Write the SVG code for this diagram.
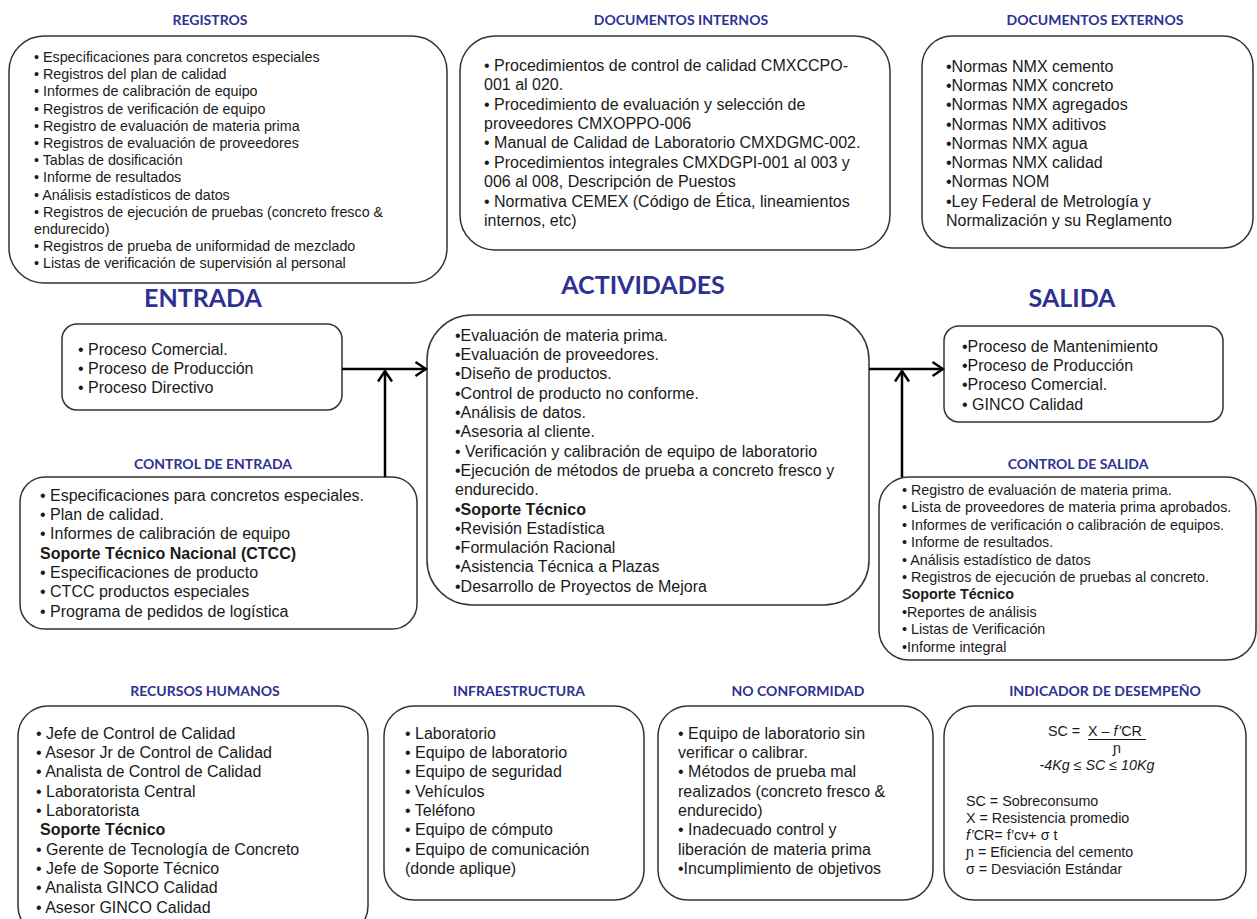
<svg xmlns="http://www.w3.org/2000/svg" width="1257" height="919" viewBox="0 0 1257 919">
  <defs>
    <style>
      .box { fill: #ffffff; stroke: #333333; stroke-width: 1.5; }
      .hd { font-family: Lato, "Open Sans", sans-serif; font-weight: 700; fill: #2e3192; text-anchor: middle; }
      .hs { font-size: 14px; }
      .hl { font-size: 25px; }
      .t { font-family: "Liberation Sans", Arial, sans-serif; fill: #1a1a1a; }
      .t15 { font-size: 16px; }
      .t13 { font-size: 14.3px; }
      .b { font-weight: 700; }
      .i { font-style: italic; }
      .conn { stroke: #000000; stroke-width: 2.5; fill: none; }
    </style>
    <marker id="arrow" viewBox="0 0 14 18" markerWidth="14" markerHeight="18" refX="12.5" refY="9" orient="auto" markerUnits="userSpaceOnUse">
      <path d="M2,2 L12.5,9 L2,16" fill="none" stroke="#000000" stroke-width="2.4"/>
    </marker>
  </defs>

  <rect width="1257" height="919" fill="#ffffff"/>

  <!-- Section headings -->
  <g id="headings">
    <text class="hd hl" x="203" y="307">ENTRADA</text>
    <text class="hd hl" x="643" y="294">ACTIVIDADES</text>
    <text class="hd hl" x="1072" y="307">SALIDA</text>
  </g>

  <!-- Records -->
  <g id="registros">
    <text class="hd hs" x="210" y="25">REGISTROS</text>
    <rect class="box" x="9" y="36" width="438" height="247" rx="35"/>
    <text class="t t13" x="34" y="62">
      <tspan x="34" dy="0">• Especificaciones para concretos especiales</tspan>
      <tspan x="34" dy="17.2">• Registros del plan de calidad</tspan>
      <tspan x="34" dy="17.2">• Informes de calibración de equipo</tspan>
      <tspan x="34" dy="17.2">• Registros de verificación de equipo</tspan>
      <tspan x="34" dy="17.2">• Registro de evaluación de materia prima</tspan>
      <tspan x="34" dy="17.2">• Registros de evaluación de proveedores</tspan>
      <tspan x="34" dy="17.2">• Tablas de dosificación</tspan>
      <tspan x="34" dy="17.2">• Informe de resultados</tspan>
      <tspan x="34" dy="17.2">• Análisis estadísticos de datos</tspan>
      <tspan x="34" dy="17.2">• Registros de ejecución de pruebas (concreto fresco &amp;</tspan>
      <tspan x="34" dy="17.2">endurecido)</tspan>
      <tspan x="34" dy="17.2">• Registros de prueba de uniformidad de mezclado</tspan>
      <tspan x="34" dy="17.2">• Listas de verificación de supervisión al personal</tspan>
    </text>
  </g>

  <!-- Internal documents -->
  <g id="documentos-internos">
    <text class="hd hs" x="681" y="25">DOCUMENTOS INTERNOS</text>
    <rect class="box" x="460" y="36" width="430" height="214" rx="35"/>
    <text class="t t15" x="484" y="70.8">
      <tspan x="484" dy="0">• Procedimientos de control de calidad CMXCCPO-</tspan>
      <tspan x="484" dy="19.4">001 al 020.</tspan>
      <tspan x="484" dy="19.4">• Procedimiento de evaluación y selección de</tspan>
      <tspan x="484" dy="19.4">proveedores CMXOPPO-006</tspan>
      <tspan x="484" dy="19.4">• Manual de Calidad de Laboratorio CMXDGMC-002.</tspan>
      <tspan x="484" dy="19.4">• Procedimientos integrales CMXDGPI-001 al 003 y</tspan>
      <tspan x="484" dy="19.4">006 al 008, Descripción de Puestos</tspan>
      <tspan x="484" dy="19.4">• Normativa CEMEX (Código de Ética, lineamientos</tspan>
      <tspan x="484" dy="19.4">internos, etc)</tspan>
    </text>
  </g>

  <!-- External documents -->
  <g id="documentos-externos">
    <text class="hd hs" x="1095" y="25">DOCUMENTOS EXTERNOS</text>
    <rect class="box" x="922" y="36" width="331" height="212" rx="30"/>
    <text class="t t15" x="946" y="71.8">
      <tspan x="946" dy="0">•Normas NMX cemento</tspan>
      <tspan x="946" dy="19.25">•Normas NMX concreto</tspan>
      <tspan x="946" dy="19.25">•Normas NMX agregados</tspan>
      <tspan x="946" dy="19.25">•Normas NMX aditivos</tspan>
      <tspan x="946" dy="19.25">•Normas NMX agua</tspan>
      <tspan x="946" dy="19.25">•Normas NMX calidad</tspan>
      <tspan x="946" dy="19.25">•Normas NOM</tspan>
      <tspan x="946" dy="19.25">•Ley Federal de Metrología y</tspan>
      <tspan x="946" dy="19.25">Normalización y su Reglamento</tspan>
    </text>
  </g>

  <!-- Inputs -->
  <g id="entrada">
    <rect class="box" x="62" y="324" width="280" height="86" rx="15"/>
    <text class="t t15" x="78" y="354.8">
      <tspan x="78" dy="0">• Proceso Comercial.</tspan>
      <tspan x="78" dy="19">• Proceso de Producción</tspan>
      <tspan x="78" dy="19">• Proceso Directivo</tspan>
    </text>
  </g>

  <!-- Input control -->
  <g id="control-entrada">
    <text class="hd hs" x="213" y="469">CONTROL DE ENTRADA</text>
    <rect class="box" x="20" y="477" width="397" height="152" rx="25"/>
    <text class="t t15" x="40" y="500.8">
      <tspan x="40" dy="0">• Especificaciones para concretos especiales.</tspan>
      <tspan x="40" dy="19.3">• Plan de calidad.</tspan>
      <tspan x="40" dy="19.3">• Informes de calibración de equipo</tspan>
      <tspan x="40" dy="19.3" class="b">Soporte Técnico Nacional (CTCC)</tspan>
      <tspan x="40" dy="19.3">• Especificaciones de producto</tspan>
      <tspan x="40" dy="19.3">• CTCC productos especiales</tspan>
      <tspan x="40" dy="19.3">• Programa de pedidos de logística</tspan>
    </text>
  </g>

  <!-- Activities -->
  <g id="actividades">
    <rect class="box" x="427" y="315" width="442" height="290" rx="45"/>
    <text class="t t15" x="455" y="340.8">
      <tspan x="455" dy="0">•Evaluación de materia prima.</tspan>
      <tspan x="455" dy="19.3">•Evaluación de proveedores.</tspan>
      <tspan x="455" dy="19.3">•Diseño de productos.</tspan>
      <tspan x="455" dy="19.3">•Control de producto no conforme.</tspan>
      <tspan x="455" dy="19.3">•Análisis de datos.</tspan>
      <tspan x="455" dy="19.3">•Asesoria al cliente.</tspan>
      <tspan x="455" dy="19.3">• Verificación y calibración de equipo de laboratorio</tspan>
      <tspan x="455" dy="19.3">•Ejecución de métodos de prueba a concreto fresco y</tspan>
      <tspan x="455" dy="19.3">endurecido.</tspan>
      <tspan x="455" dy="19.3" class="b">•Soporte Técnico</tspan>
      <tspan x="455" dy="19.3">•Revisión Estadística</tspan>
      <tspan x="455" dy="19.3">•Formulación Racional</tspan>
      <tspan x="455" dy="19.3">•Asistencia Técnica a Plazas</tspan>
      <tspan x="455" dy="19.3">•Desarrollo de Proyectos de Mejora</tspan>
    </text>
  </g>

  <!-- Outputs -->
  <g id="salida">
    <rect class="box" x="944" y="326" width="279" height="96" rx="15"/>
    <text class="t t15" x="962" y="351.8">
      <tspan x="962" dy="0">•Proceso de Mantenimiento</tspan>
      <tspan x="962" dy="19.3">•Proceso de Producción</tspan>
      <tspan x="962" dy="19.3">•Proceso Comercial.</tspan>
      <tspan x="962" dy="19.3">• GINCO Calidad</tspan>
    </text>
  </g>

  <!-- Output control -->
  <g id="control-salida">
    <text class="hd hs" x="1078" y="469">CONTROL DE SALIDA</text>
    <rect class="box" x="879" y="477" width="377" height="183" rx="30"/>
    <text class="t t13" x="902" y="495">
      <tspan x="902" dy="0">• Registro de evaluación de materia prima.</tspan>
      <tspan x="902" dy="17.4">• Lista de proveedores de materia prima aprobados.</tspan>
      <tspan x="902" dy="17.4">• Informes de verificación o calibración de equipos.</tspan>
      <tspan x="902" dy="17.4">• Informe de resultados.</tspan>
      <tspan x="902" dy="17.4">• Análisis estadístico de datos</tspan>
      <tspan x="902" dy="17.4">• Registros de ejecución de pruebas al concreto.</tspan>
      <tspan x="902" dy="17.4" class="b">Soporte Técnico</tspan>
      <tspan x="902" dy="17.4">•Reportes de análisis</tspan>
      <tspan x="902" dy="17.4">• Listas de Verificación</tspan>
      <tspan x="902" dy="17.4">•Informe integral</tspan>
    </text>
  </g>

  <!-- Human resources -->
  <g id="recursos-humanos">
    <text class="hd hs" x="205" y="696">RECURSOS HUMANOS</text>
    <rect class="box" x="18" y="706" width="350" height="230" rx="30"/>
    <text class="t t15" x="36" y="738.8">
      <tspan x="36" dy="0">• Jefe de Control de Calidad</tspan>
      <tspan x="36" dy="19.3">• Asesor Jr de Control de Calidad</tspan>
      <tspan x="36" dy="19.3">• Analista de Control de Calidad</tspan>
      <tspan x="36" dy="19.3">• Laboratorista Central</tspan>
      <tspan x="36" dy="19.3">• Laboratorista</tspan>
      <tspan x="40" dy="19.3" class="b">Soporte Técnico</tspan>
      <tspan x="36" dy="19.3">• Gerente de Tecnología de Concreto</tspan>
      <tspan x="36" dy="19.3">• Jefe de Soporte Técnico</tspan>
      <tspan x="36" dy="19.3">• Analista GINCO Calidad</tspan>
      <tspan x="36" dy="19.3">• Asesor GINCO Calidad</tspan>
    </text>
  </g>

  <!-- Infrastructure -->
  <g id="infraestructura">
    <text class="hd hs" x="519" y="696">INFRAESTRUCTURA</text>
    <rect class="box" x="384" y="706" width="260" height="194" rx="30"/>
    <text class="t t15" x="405" y="738.8">
      <tspan x="405" dy="0">• Laboratorio</tspan>
      <tspan x="405" dy="19.3">• Equipo de laboratorio</tspan>
      <tspan x="405" dy="19.3">• Equipo de seguridad</tspan>
      <tspan x="405" dy="19.3">• Vehículos</tspan>
      <tspan x="405" dy="19.3">• Teléfono</tspan>
      <tspan x="405" dy="19.3">• Equipo de cómputo</tspan>
      <tspan x="405" dy="19.3">• Equipo de comunicación</tspan>
      <tspan x="405" dy="19.3">(donde aplique)</tspan>
    </text>
  </g>

  <!-- Nonconformity -->
  <g id="no-conformidad">
    <text class="hd hs" x="798" y="696">NO CONFORMIDAD</text>
    <rect class="box" x="658" y="706" width="275" height="194" rx="30"/>
    <text class="t t15" x="678" y="738.8">
      <tspan x="678" dy="0">• Equipo de laboratorio sin</tspan>
      <tspan x="678" dy="19.3">verificar o calibrar.</tspan>
      <tspan x="678" dy="19.3">• Métodos de prueba mal</tspan>
      <tspan x="678" dy="19.3">realizados (concreto fresco &amp;</tspan>
      <tspan x="678" dy="19.3">endurecido)</tspan>
      <tspan x="678" dy="19.3">• Inadecuado control y</tspan>
      <tspan x="678" dy="19.3">liberación de materia prima</tspan>
      <tspan x="678" dy="19.3">•Incumplimiento de objetivos</tspan>
    </text>
  </g>

  <!-- Performance indicator -->
  <g id="indicador-desempeno">
    <text class="hd hs" x="1105" y="696">INDICADOR DE DESEMPEÑO</text>
    <rect class="box" x="944" y="706" width="302" height="194" rx="30"/>
    <text class="t t13" x="1048" y="736">SC = </text>
    <text class="t t13" x="1088" y="736">X – <tspan class="i">f’</tspan>CR</text>
    <line x1="1088" y1="739.5" x2="1146" y2="739.5" stroke="#1a1a1a" stroke-width="1"/>
    <text class="t t13" x="1117" y="752.5" text-anchor="middle">ɲ</text>
    <text class="t t13 i" x="1097" y="770" text-anchor="middle">-4Kg ≤ SC ≤ 10Kg</text>
    <text class="t t13" x="966" y="806">
      <tspan x="966" dy="0">SC = Sobreconsumo</tspan>
      <tspan x="966" dy="17">X = Resistencia promedio</tspan>
      <tspan x="966" dy="17"><tspan class="i">f’</tspan>CR= f’cv+ σ t</tspan>
      <tspan x="966" dy="17">ɲ = Eficiencia del cemento</tspan>
      <tspan x="966" dy="17">σ  = Desviación Estándar</tspan>
    </text>
  </g>

  <!-- Connectors -->
  <g id="connectors">
    <line class="conn" x1="342" y1="369" x2="426" y2="369" marker-end="url(#arrow)"/>
    <line class="conn" x1="385" y1="477" x2="385" y2="371" marker-end="url(#arrow)"/>
    <line class="conn" x1="869" y1="369" x2="943" y2="369" marker-end="url(#arrow)"/>
    <line class="conn" x1="902" y1="477" x2="902" y2="371" marker-end="url(#arrow)"/>
  </g>
</svg>
